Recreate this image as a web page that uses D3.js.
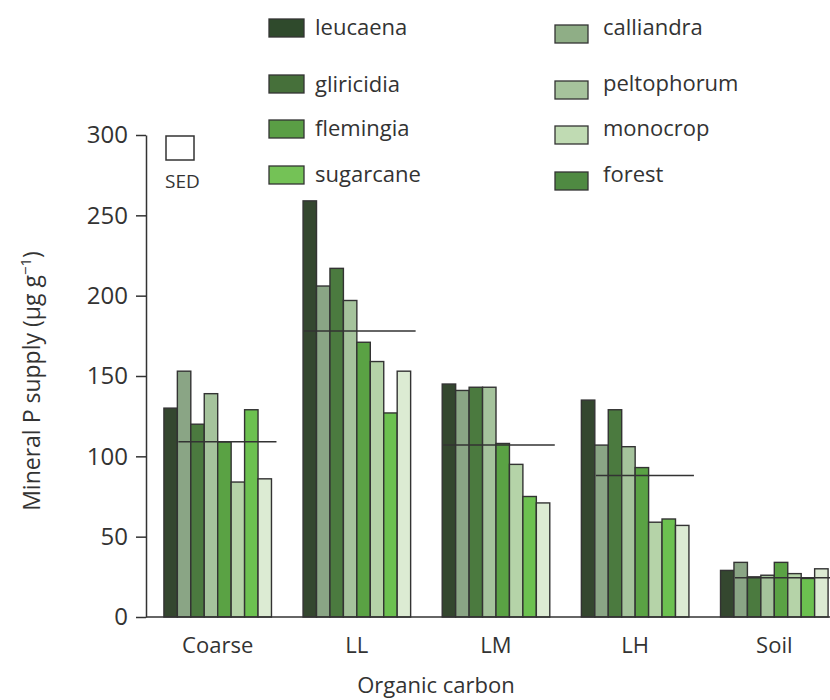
<!DOCTYPE html>
<html>
<head>
<meta charset="utf-8">
<script src="https://cdn.jsdelivr.net/npm/d3@7"></script>
<style>
  body { margin: 0; background: #fff; }
  text { font-family: "Open Sans", sans-serif; fill: #333; }
</style>
</head>
<body>
<div id="graph"></div>
<script>
let W = 830, H = 700;

// data
let groups = ["Coarse", "LL", "LM", "LH", "Soil"];
let series = ["leucaena", "calliandra", "gliricidia", "peltophorum",
              "flemingia", "monocrop", "sugarcane", "forest"];
let leucaena    = [130, 259, 145, 135, 29];
let calliandra  = [153, 206, 141, 107, 34];
let gliricidia  = [120, 217, 143, 129, 25];
let peltophorum = [139, 197, 143, 106, 26];
let flemingia   = [109, 171, 108,  93, 34];
let monocrop    = [ 84, 159,  95,  59, 27];
let sugarcane   = [129, 127,  75,  61, 24];
let forest      = [ 86, 153,  71,  57, 30];
let sed = [109, 178, 107, 88, 24.5];
let sedFrom = [1, 0, 0, 1, 1]; // first bar the SED line starts at
let yTicks = [0, 50, 100, 150, 200, 250, 300];

let values = [leucaena, calliandra, gliricidia, peltophorum,
              flemingia, monocrop, sugarcane, forest];
let barColors = ["#34472f", "#8aa585", "#4b7a3f", "#a5c39c",
                 "#5aa244", "#b5d3a8", "#6cc150", "#dcebd3"];
let legendColors = ["#2f4a2c", "#8fae86", "#46703a", "#a6c39c",
                    "#5a9e45", "#c0dbb3", "#74c256", "#4f8a42"];

let svg = d3.select("#graph").append("svg")
  .attr("width", W).attr("height", H);

let y = d3.scaleLinear().domain([0, 300]).range([617, 135]);
let x0 = d3.scaleBand().domain(groups).range([150, 842])
  .paddingInner(0.227).paddingOuter(0.1);
let x1 = d3.scaleBand().domain(series).range([0, x0.bandwidth()]);

// bars
let g = svg.selectAll("g.grp")
  .data(groups)
  .enter()
  .append("g")
  .attr("class", "grp")
  .attr("transform", function(d) { return "translate(" + x0(d) + ",0)"; });

g.selectAll("rect")
  .data(function(d, gi) {
    return series.map(function(s, si) { return {s: s, si: si, v: values[si][gi]}; });
  })
  .enter()
  .append("rect")
  .attr("x", function(d) { return x1(d.s); })
  .attr("y", function(d) { return y(d.v); })
  .attr("width", x1.bandwidth())
  .attr("height", function(d) { return y(0) - y(d.v); })
  .style("fill", function(d) { return barColors[d.si]; })
  .attr("stroke", "#333")
  .attr("stroke-width", 1.4);

// SED lines
g.append("line")
  .attr("x1", function(d, i) { return x1(series[sedFrom[i]]) + 1; })
  .attr("x2", x0.bandwidth() + 5)
  .attr("y1", function(d, i) { return y(sed[i]); })
  .attr("y2", function(d, i) { return y(sed[i]); })
  .attr("stroke", "#333")
  .attr("stroke-width", 1.5);

// y axis
let yAxis = svg.append("g")
  .attr("transform", "translate(146,0)")
  .call(d3.axisLeft(y).tickValues(yTicks).tickSize(10).tickSizeOuter(0).tickPadding(8));
yAxis.select(".domain").attr("stroke", "#333").attr("stroke-width", 1.5);
yAxis.selectAll(".tick line").attr("stroke", "#333").attr("stroke-width", 1.5);
yAxis.selectAll(".tick text")
  .style("font-family", "'Open Sans', sans-serif")
  .style("font-size", "24px")
  .style("fill", "#333");

// x axis baseline
svg.append("line")
  .attr("x1", 146).attr("x2", W)
  .attr("y1", y(0)).attr("y2", y(0))
  .attr("stroke", "#333").attr("stroke-width", 1.5);

svg.selectAll("text.xlab")
  .data(groups)
  .enter()
  .append("text")
  .attr("class", "xlab")
  .attr("x", function(d) { return x0(d) + x0.bandwidth() / 2; })
  .attr("y", 653)
  .attr("text-anchor", "middle")
  .style("font-size", "22px")
  .text(function(d) { return d; });

svg.append("text")
  .attr("x", 436).attr("y", 693)
  .attr("text-anchor", "middle")
  .style("font-size", "22px")
  .text("Organic carbon");

let yt = svg.append("text")
  .attr("transform", "translate(40,381) rotate(-90)")
  .attr("text-anchor", "middle")
  .style("font-size", "23px");
yt.append("tspan").text("Mineral P supply (\u00b5g g");
yt.append("tspan").attr("dy", -9).style("font-size", "15px").text("\u22121");
yt.append("tspan").attr("dy", 9).text(")");

// SED key
svg.append("rect")
  .attr("x", 166).attr("y", 136).attr("width", 28).attr("height", 24)
  .style("fill", "#fff").attr("stroke", "#333").attr("stroke-width", 1.5);
svg.append("text")
  .attr("x", 165).attr("y", 188)
  .style("font-size", "19px")
  .text("SED");

// legend: two columns of four
let rowY = [36, 92, 137, 183];
let leg = svg.selectAll("g.leg")
  .data(series)
  .enter()
  .append("g")
  .attr("class", "leg")
  .attr("transform", function(d, i) {
    let col = i % 2, row = Math.floor(i / 2);
    return "translate(" + (col ? 555 : 269) + "," + rowY[row] + ")";
  });
leg.append("rect")
  .attr("x", 0)
  .attr("y", function(d, i) { return i % 2 ? -11 : -17; })
  .attr("width", function(d, i) { return i % 2 ? 33 : 35; })
  .attr("height", 18)
  .style("fill", function(d, i) { return legendColors[i]; })
  .attr("stroke", "#333")
  .attr("stroke-width", 1.3);
leg.append("text")
  .attr("x", function(d, i) { return i % 2 ? 48 : 46; })
  .attr("y", function(d, i) { return (i % 2 === 0 && i > 0 && i < 4) ? 0 : -1; })
  .style("font-size", "22px")
  .text(function(d) { return d; });
</script>
</body>
</html>
